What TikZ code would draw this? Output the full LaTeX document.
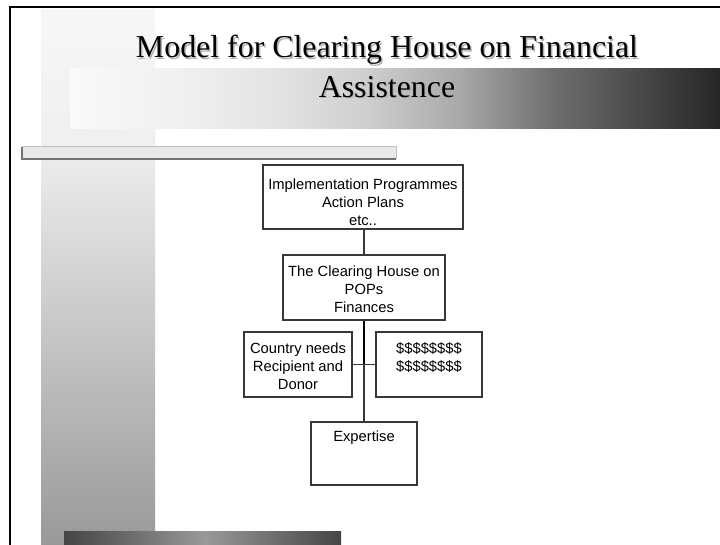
\documentclass[tikz,border=0pt]{standalone}
\usepackage{fontspec}
\setmainfont{Liberation Serif}
\newfontfamily\arialfont{Liberation Sans}
\definecolor{bA}{gray}{0.98}
\definecolor{bB}{gray}{0.94}
\definecolor{bC}{gray}{0.894}
\definecolor{bD}{gray}{0.81}
\definecolor{bE}{gray}{0.66}
\definecolor{bF}{gray}{0.44}
\definecolor{bG}{gray}{0.28}
\definecolor{bH}{gray}{0.15}
\definecolor{vTop}{gray}{0.97}
\definecolor{vMid}{gray}{0.94}
\definecolor{vBot}{gray}{0.60}
\definecolor{thinfill}{gray}{0.91}
\definecolor{thinlight}{gray}{0.75}
\definecolor{thindark}{gray}{0.45}
\definecolor{botdark}{gray}{0.27}
\definecolor{botlight}{gray}{0.60}
\definecolor{boxline}{gray}{0.22}
\definecolor{shadowgray}{gray}{0.70}
\newcommand{\bxt}[4]{\parbox[c][#2][t]{#1}{\centering\arialfont\fontsize{14.8}{18}\selectfont\vspace*{#3}\rule{0pt}{11bp}#4}}
\tikzset{
  boxnode/.style={draw=boxline, line width=1.2bp, inner sep=0pt, fill=white},
  titletext/.style={font=\fontsize{32}{40}\selectfont, align=center, inner sep=0pt, anchor=north},
  conn/.style={draw=boxline, line width=1.3bp},
  connbold/.style={draw=black, line width=2bp}
}
\begin{document}
\begin{tikzpicture}[x=1bp,y=-1bp]
\useasboundingbox (0,0) rectangle (720,545);
\fill[white] (0,0) rectangle (720,545);
% left vertical gradient bar
\shade[top color=vTop, bottom color=vMid] (41,10) rectangle (155,140.5);
\shade[top color=vMid, bottom color=vBot] (41,140) rectangle (155,545);
% horizontal gradient band
\shade[left color=bA, right color=bB] (70,69) rectangle (180.5,129);
\shade[left color=bB, right color=bC] (180,69) rectangle (275.5,129);
\shade[left color=bC, right color=bD] (275,69) rectangle (367.5,129);
\shade[left color=bD, right color=bE] (367,69) rectangle (460.5,129);
\shade[left color=bE, right color=bF] (460,69) rectangle (550.5,129);
\shade[left color=bF, right color=bG] (550,69) rectangle (642.5,129);
\shade[left color=bG, right color=bH] (642,69) rectangle (720,129);
% thin bar
\fill[thinfill, draw=thinlight, line width=1bp] (22,147) rectangle (396,159);
\draw[thindark, line width=1.2bp] (22,147) -- (22,159) -- (396,159);
% bottom bar
\shade[left color=botdark, right color=botlight] (64,531) rectangle (205.5,545);
\shade[left color=botlight, right color=botdark] (205,531) rectangle (341,545);
% frame
\draw[black, line width=2.5bp] (10,545) -- (10,7) -- (720,7);
% title
\node[titletext, text=shadowgray] (titleshadow) at (388.5,36.5) {Model for Clearing House on Financial\\Assistence};
\node[titletext] (title) at (387,35) {Model for Clearing House on Financial\\Assistence};
% boxes
\node[boxnode] (b1) at (363,197) {\bxt{200bp}{64bp}{13.3bp}{Implementation Programmes\\Action Plans\\etc..}};
\node[boxnode] (b2) at (364,287.5) {\bxt{162bp}{65bp}{10.3bp}{The Clearing House on\\POPs\\Finances}};
\node[boxnode] (b3) at (298,364.5) {\bxt{108bp}{65bp}{10.3bp}{Country needs\\Recipient and\\Donor}};
\node[boxnode] (b4) at (429,364.5) {\bxt{106bp}{65bp}{10.3bp}{\$\$\$\$\$\$\$\$\\\$\$\$\$\$\$\$\$}};
\node[boxnode] (b5) at (364,453.5) {\bxt{106bp}{63bp}{8.3bp}{Expertise}};
% connectors
\coordinate (j) at (b2.south |- b3.east);
\draw[conn] (b2.north) -- (b2.north |- b1.south);
\draw[connbold] (b2.south) -- (j);
\draw[conn] (j) -- (b5.north);
\draw[conn] (b3.east) -- (b4.west);
\end{tikzpicture}
\end{document}
